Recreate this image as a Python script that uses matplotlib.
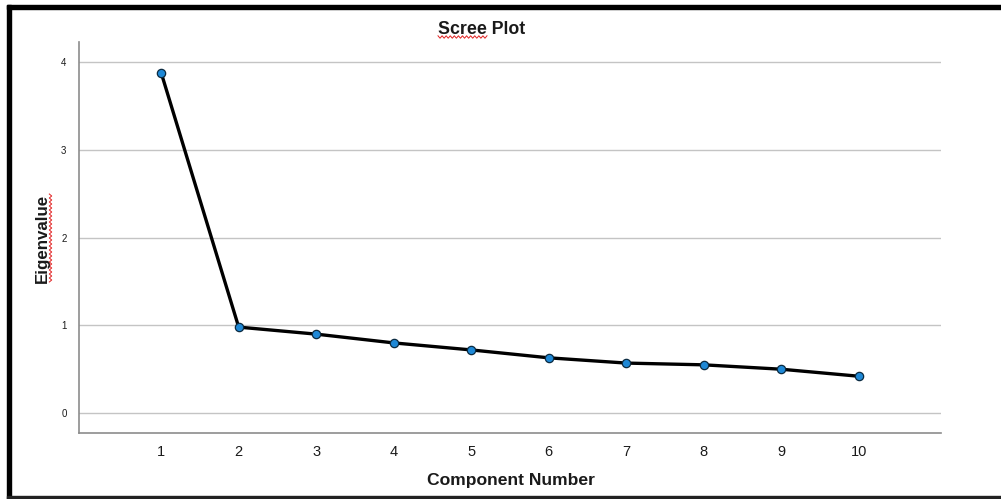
import numpy as np
import matplotlib as mpl
import matplotlib.pyplot as plt
from matplotlib.lines import Line2D
from matplotlib.patches import Rectangle

mpl.rcParams.update({
    "font.family": ["Liberation Sans", "DejaVu Sans"],
    "text.color": "#1a1a1a",
    "xtick.color": "#1a1a1a",
    "ytick.color": "#1a1a1a",
})

components = [1, 2, 3, 4, 5, 6, 7, 8, 9, 10]
eigenvalues = [3.88, 0.98, 0.90, 0.80, 0.72, 0.63, 0.57, 0.55, 0.50, 0.42]
y_ticks = [0, 1, 2, 3, 4]

fig = plt.figure(figsize=(10.01, 4.99), dpi=100)
ax = fig.add_axes([79 / 1001, 1 - 433 / 499, (941 - 79) / 1001, (433 - 42) / 499])

ax.plot(components, eigenvalues, color="black", linewidth=2.4,
        marker="o", markersize=6, markerfacecolor="#1e88d6",
        markeredgecolor="#0b2a40", markeredgewidth=0.9, zorder=3)

ax.set_xlim(-0.06, 11.06)
ax.set_ylim(-0.227, 4.23)
ax.set_xticks(components)
ax.set_yticks(y_ticks)
ax.tick_params(axis="x", length=0, labelsize=10.5, pad=9)
ax.tick_params(axis="y", length=0, labelsize=7, pad=9)

ax.grid(axis="y", color="#c4c4c4", linewidth=1.0)
ax.set_axisbelow(True)
for side in ("top", "right"):
    ax.spines[side].set_visible(False)
for side in ("left", "bottom"):
    ax.spines[side].set_color("#8c8c8c")
    ax.spines[side].set_linewidth(1.2)

fig.text(482 / 1001, 1 - 29 / 499, "Scree Plot", ha="center", va="center",
         fontsize=12.8, fontweight="bold")
fig.text(511 / 1001, 1 - 480 / 499, "Component Number", ha="center", va="center",
         fontsize=12.6, fontweight="bold")
fig.text(42 / 1001, 1 - 238 / 499, "Eigenvalue", ha="center", va="center",
         rotation=90, fontsize=12.2, fontweight="bold")


# red wavy spell-check underlines, in pixel space
def squiggle(x0, x1, y0, vertical=False):
    n = int(abs(x1 - x0) / 2) + 1
    t = np.linspace(x0, x1, n)
    w = np.where(np.arange(n) % 2 == 0, -1.2, 1.2)
    if vertical:
        xs, ys = y0 + w, t
    else:
        xs, ys = t, y0 + w
    fig.add_artist(Line2D(xs / 1001, 1 - ys / 499, color="#e02020",
                          linewidth=0.7, transform=fig.transFigure))


squiggle(438, 487, 37)
squiggle(194, 282, 50.5, vertical=True)

# page frame
fig.add_artist(Rectangle((7 / 1001, 0), 4 / 1001, 1 - 5 / 499, color="black",
                         transform=fig.transFigure))
fig.add_artist(Rectangle((7 / 1001, 1 - 9 / 499), 1, 4 / 499, color="black",
                         transform=fig.transFigure))
fig.add_artist(Rectangle((7 / 1001, 0), 1, 3 / 499, color="#222222",
                         transform=fig.transFigure))

fig.savefig("out.png", dpi=100, facecolor="white")
